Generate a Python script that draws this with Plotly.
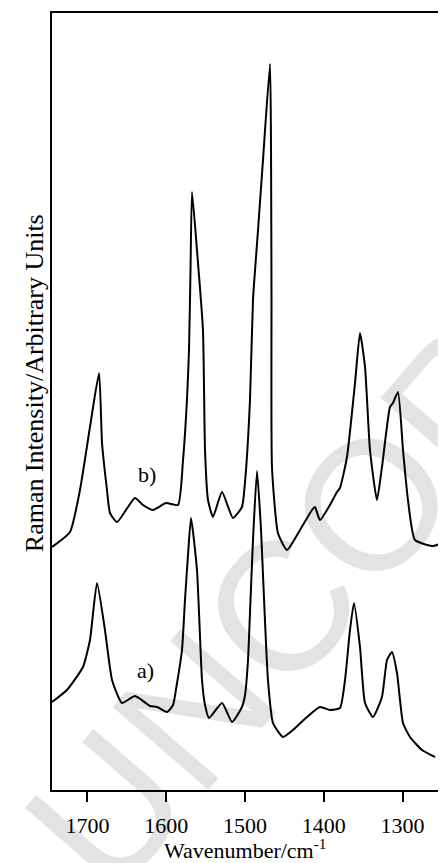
import plotly.graph_objects as go

# ---- data (wavenumber / cm-1, arbitrary intensity) ----
b_wn = [1745.0, 1722.2, 1709.5, 1696.8, 1685.3, 1681.5, 1675.2, 1671.4, 1662.5, 1639.7,
        1629.5, 1616.8, 1600.3, 1585.1, 1578.7, 1573.7, 1571.1, 1569.2, 1567.3, 1561.0,
        1553.4, 1550.8, 1547.0, 1540.7, 1529.2, 1515.3, 1503.9, 1500.0, 1493.7, 1489.9,
        1483.5, 1477.2, 1468.3, 1467.0, 1466.4, 1465.8, 1458.2, 1446.7, 1430.2, 1415.0,
        1411.2, 1404.9, 1392.2, 1383.3, 1379.5, 1370.6, 1360.4, 1354.1, 1347.7, 1341.4,
        1332.5, 1326.2, 1316.0, 1312.2, 1305.9, 1299.5, 1293.2, 1284.3, 1261.4, 1250.0]
b_int = [243, 258, 300, 363, 417, 347, 300, 277, 268, 292,
         285, 280, 287, 285, 330, 390, 440, 520, 598, 540,
         460, 340, 290, 273, 298, 272, 283, 308, 390, 490,
         560, 630, 726, 640, 490, 323, 257, 240, 260, 280,
         283, 270, 285, 298, 302, 333, 407, 457, 423, 340,
         290, 323, 383, 387, 398, 340, 290, 250, 244, 247]

a_wn = [1745.0, 1726.0, 1705.7, 1696.8, 1687.9, 1677.8, 1668.8, 1656.2, 1639.7, 1620.6,
        1611.7, 1599.0, 1591.4, 1586.3, 1580.0, 1576.2, 1572.4, 1568.6, 1561.0, 1554.6,
        1550.8, 1545.7, 1529.2, 1516.5, 1503.9, 1500.0, 1496.2, 1493.7, 1489.9, 1484.8,
        1479.7, 1477.2, 1470.9, 1464.5, 1451.8, 1439.1, 1421.4, 1404.9, 1392.2, 1379.5,
        1373.1, 1366.8, 1361.7, 1354.1, 1347.7, 1337.6, 1326.2, 1319.8, 1313.5, 1307.1,
        1299.5, 1290.6, 1275.4, 1258.9]
a_int = [88, 100, 123, 150, 207, 160, 110, 87, 94, 84,
         83, 78, 85, 107, 140, 190, 235, 272, 220, 110,
         85, 72, 87, 68, 83, 95, 130, 177, 250, 319,
         260, 215, 110, 67, 53, 60, 73, 83, 80, 82,
         110, 160, 187, 143, 87, 73, 93, 130, 138, 117,
         67, 53, 40, 33]

tick_vals = [1700, 1600, 1500, 1400, 1300]
tick_text = ["1700", "1600", "1500", "1400", "1300"]

label_text = ["b)", "a)"]
label_wn = [1624, 1626]
label_int = [316, 120]

x_range = [1745, 1250]
y_range = [0, 777]

SERIF = "Liberation Serif, Times New Roman, serif"

fig = go.Figure()
for xs, ys in [(b_wn, b_int), (a_wn, a_int)]:
    fig.add_trace(go.Scatter(x=xs, y=ys, mode="lines",
                             line=dict(color="black", width=2, shape="spline", smoothing=0.5),
                             hoverinfo="skip"))

for t, xw, yi in zip(label_text, label_wn, label_int):
    fig.add_annotation(x=xw, y=yi, text=t, showarrow=False,
                       font=dict(family=SERIF, size=22, color="black"))

# axis titles
fig.add_annotation(xref="paper", yref="paper", x=-0.085, y=0.524,
                   text="Raman Intensity/Arbitrary Units", textangle=-90, showarrow=False,
                   font=dict(family=SERIF, size=26, color="black"))
fig.add_annotation(xref="paper", yref="paper", x=0.495, y=-0.0765, yanchor="middle",
                   text="Wavenumber/cm<sup>-1</sup>", showarrow=False,
                   font=dict(family=SERIF, size=22, color="black"))

# watermark (drawn below the traces)
fig.add_shape(type="line", xref="paper", yref="paper",
              x0=0.863, y0=0.427, x1=1.531, y1=0.814, layer="below",
              line=dict(color="rgba(0,0,0,0)", width=0),
              label=dict(text="UNCORRECTED", textposition="middle", yanchor="middle",
                         font=dict(family="Liberation Sans, Arial, sans-serif", size=184,
                                   color="#e3e3e3")))

# the page body adds an 8 px offset, so the figure is 8 px smaller than the window
fig.update_layout(
    width=438, height=855,
    margin=dict(l=44, r=4, t=5, b=73, autoexpand=False),
    plot_bgcolor="white", paper_bgcolor="white",
    showlegend=False,
    font=dict(family=SERIF, color="black"),
    xaxis=dict(range=x_range, tickvals=tick_vals, ticktext=tick_text, automargin=False,
               ticks="outside", ticklen=10, tickwidth=2, tickcolor="black",
               showline=True, linewidth=2, linecolor="black", mirror=True,
               showgrid=False, zeroline=False, ticklabelstandoff=5,
               tickfont=dict(family=SERIF, size=22, color="black")),
    yaxis=dict(range=y_range, showline=True, linewidth=2, linecolor="black", automargin=False,
               mirror=True, showticklabels=False, ticks="", showgrid=False, zeroline=False),
)

fig.write_html("out.html")
